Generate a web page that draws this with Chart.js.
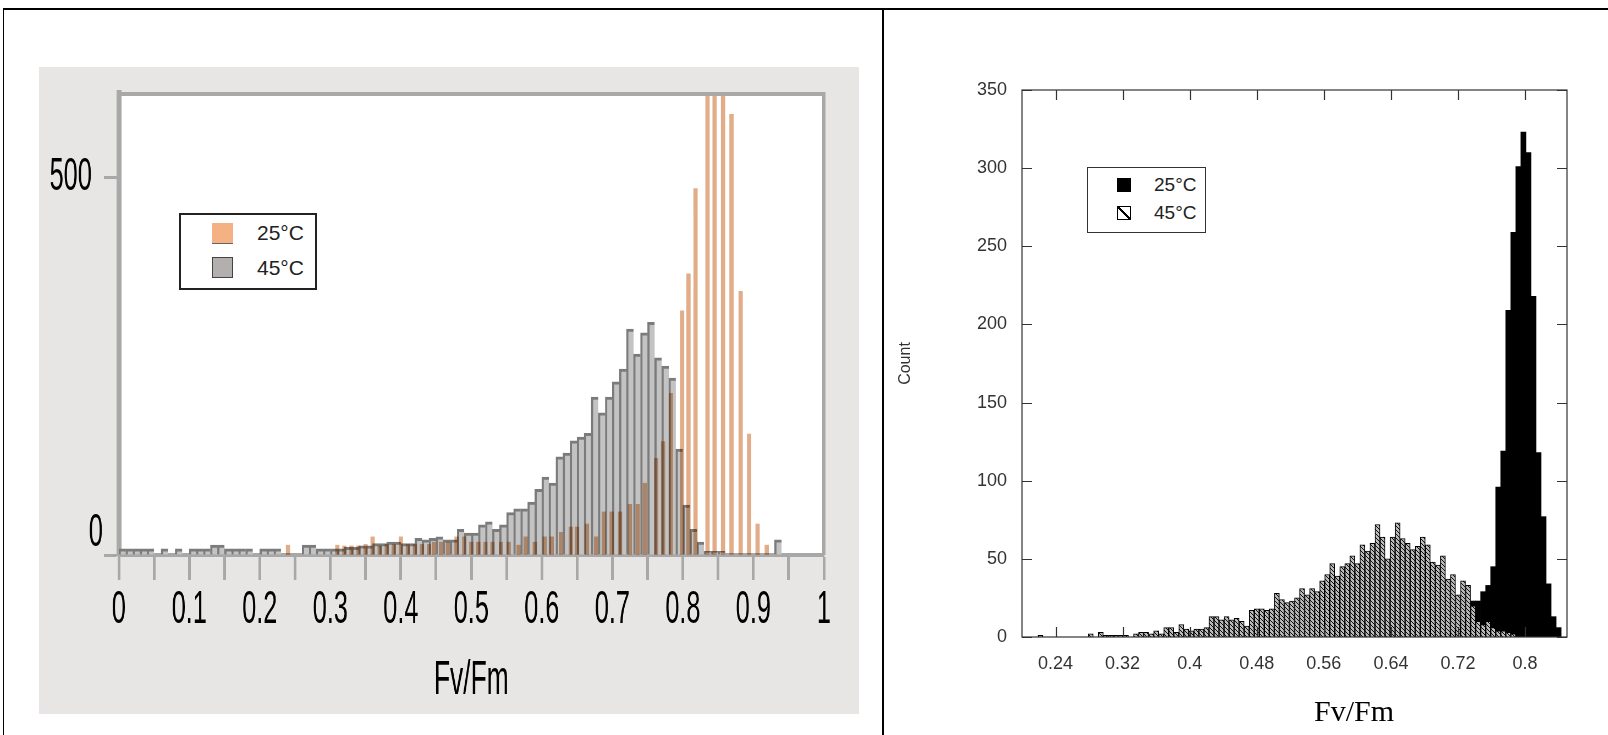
<!DOCTYPE html>
<html>
<head>
<meta charset="utf-8">
<title>Fv/Fm histograms</title>
<script src="https://cdn.jsdelivr.net/npm/chart.js@4.4.1/dist/chart.umd.min.js"></script>
<style>
  html, body { margin: 0; padding: 0; background: #fff; }
  body { width: 1608px; height: 735px; position: relative; overflow: hidden; font-family: 'Liberation Sans', Arial, sans-serif; }
  .rule { position: absolute; background: #000; }
  #leftPanel { position: absolute; left: 39px; top: 67px; width: 820px; height: 647px; background: #e7e6e4; overflow: hidden; }
  /* the left figure uses a tall, narrow lettering: draw it wide and squeeze it horizontally */
  #leftWrap { position: absolute; left: 0; top: 0; width: 1491px; height: 647px; transform: scaleX(0.55); transform-origin: 0 0; }
  #rightPanel { position: absolute; left: 884px; top: 10px; width: 724px; height: 725px; }
  .legend { position: absolute; background: #fff; box-sizing: content-box; z-index: 2; }
  .sw { position: absolute; box-sizing: border-box; }
  .lt { position: absolute; white-space: nowrap; color: #222; }
  #rightTitle { position: absolute; left: 1300px; top: 693px; width: 108px; text-align: center; line-height: 36px;
                font-family: 'Liberation Serif', 'Times New Roman', serif; font-size: 30px; color: #000; }
</style>
</head>
<body>
<div class="rule" style="left:3px;top:8px;width:1605px;height:2px"></div>
<div class="rule" style="left:3px;top:8px;width:1px;height:727px"></div>
<div class="rule" style="left:882px;top:8px;width:2px;height:727px"></div>

<div id="leftPanel"><div id="leftWrap"><canvas id="leftChart"></canvas></div></div>
<div id="rightPanel"><canvas id="rightChart"></canvas></div>

<div class="legend" style="left:179px;top:213px;width:134px;height:73px;border:2px solid #222">
  <span class="sw" style="left:31px;top:8px;width:21px;height:21px;background:#f4b183;border-bottom:1px solid #666"></span>
  <span class="lt" style="left:76px;top:6px;font-size:21px;line-height:24px">25°C</span>
  <span class="sw" style="left:31px;top:42px;width:21px;height:21px;background:#b2afae;border:1.5px solid #444"></span>
  <span class="lt" style="left:76px;top:41px;font-size:21px;line-height:24px">45°C</span>
</div>

<div class="legend" style="left:1087px;top:167px;width:117px;height:64px;border:1.5px solid #333">
  <span class="sw" style="left:29px;top:10px;width:14px;height:14px;background:#000"></span>
  <span class="lt" style="left:66px;top:6px;font-size:19px;line-height:22px">25°C</span>
  <span class="sw" style="left:29px;top:38px;width:14px;height:14px;border:1px solid #000;background:linear-gradient(to top right,#fff 42%,#000 42%,#000 58%,#fff 58%)"></span>
  <span class="lt" style="left:66px;top:34px;font-size:19px;line-height:22px">45°C</span>
</div>

<div id="rightTitle">Fv/Fm</div>

<script>
// ---- left panel: Fv/Fm histogram, 25°C vs 45°C ----
const leftBins25 = [0.24, 0.31, 0.32, 0.33, 0.34, 0.35, 0.36, 0.37, 0.38, 0.39, 0.40, 0.41, 0.42, 0.43, 0.44,
  0.447, 0.457, 0.467, 0.479, 0.49, 0.50, 0.51, 0.52, 0.53, 0.542, 0.553, 0.567, 0.577, 0.59, 0.604, 0.614,
  0.627, 0.641, 0.65, 0.664, 0.677, 0.688, 0.699, 0.711, 0.725, 0.736, 0.746, 0.762, 0.772, 0.783,
  0.799, 0.808, 0.818, 0.835, 0.845, 0.857, 0.869, 0.882, 0.894, 0.906, 0.919];
const leftCounts25 = [13, 13, 12, 12, 12, 14, 24, 12, 14, 14, 24, 14, 14, 14, 14,
  17, 17, 17, 24, 24, 17, 17, 17, 17, 17, 17, 13, 24, 17, 24, 24,
  30, 37, 37, 41, 24, 57, 57, 57, 67, 67, 95, 128, 150, 214,
  323, 372, 485, 640, 640, 640, 583, 349, 160, 41, 13];

const leftBins45 = [0.005, 0.015, 0.025, 0.035, 0.045, 0.065, 0.085, 0.105, 0.115, 0.125, 0.135, 0.145,
  0.155, 0.165, 0.175, 0.185, 0.205, 0.215, 0.225, 0.265, 0.275, 0.285, 0.295, 0.305, 0.315, 0.325,
  0.335, 0.345, 0.355, 0.365, 0.375, 0.385, 0.395, 0.405, 0.415, 0.425, 0.435, 0.445, 0.455, 0.465,
  0.475, 0.485, 0.495, 0.505, 0.515, 0.525, 0.535, 0.545, 0.555, 0.565, 0.575, 0.585, 0.595, 0.605,
  0.615, 0.625, 0.635, 0.645, 0.655, 0.665, 0.675, 0.685, 0.695, 0.705, 0.715, 0.725, 0.735, 0.745,
  0.755, 0.765, 0.775, 0.785, 0.795, 0.805, 0.815, 0.825, 0.835, 0.845, 0.855, 0.935];
const leftCounts45 = [8, 8, 8, 8, 8, 8, 8, 8, 8, 8, 13, 13,
  8, 8, 8, 8, 8, 8, 8, 13, 13, 8, 8, 8, 8, 10,
  10, 12, 12, 15, 15, 17, 17, 15, 15, 22, 20, 22, 24, 20,
  20, 34, 29, 29, 40, 44, 34, 40, 56, 61, 61, 70, 87, 103,
  95, 130, 135, 151, 156, 161, 209, 188, 209, 229, 246, 299, 266, 294,
  308, 261, 250, 234, 140, 66, 34, 17, 5, 5, 5, 20];

const leftXTicks = [0, 0.05, 0.1, 0.15, 0.2, 0.25, 0.3, 0.35, 0.4, 0.45, 0.5, 0.55, 0.6, 0.65, 0.7, 0.75, 0.8, 0.85, 0.9, 0.95, 1];
const leftXLabels = ['0', '', '0.1', '', '0.2', '', '0.3', '', '0.4', '', '0.5', '', '0.6', '', '0.7', '', '0.8', '', '0.9', '', '1'];
const leftYTicks = [0, 500];
const leftYLabels = ['0', '500'];

// ---- right panel: Fv/Fm histogram, 25°C vs 45°C ----
const rightBins25 = [0.708, 0.714, 0.720, 0.726, 0.732, 0.738, 0.744, 0.750, 0.756, 0.762, 0.768, 0.774,
  0.780, 0.786, 0.792, 0.798, 0.804, 0.810, 0.816, 0.822, 0.828, 0.834, 0.840];
const rightCounts25 = [2, 3, 5, 10, 15, 23, 23, 29, 33, 45, 96, 119,
  209, 259, 301, 323, 310, 218, 118, 77, 34, 13, 6];

const rightBins45 = [0.222, 0.282, 0.294, 0.300, 0.306, 0.312, 0.318, 0.324, 0.336, 0.342, 0.348, 0.354,
  0.360, 0.366, 0.372, 0.378, 0.384, 0.390, 0.396, 0.402, 0.408, 0.414, 0.420, 0.426, 0.432, 0.438,
  0.444, 0.450, 0.456, 0.462, 0.468, 0.474, 0.480, 0.486, 0.492, 0.498, 0.504, 0.510, 0.516, 0.522,
  0.528, 0.534, 0.540, 0.546, 0.552, 0.558, 0.564, 0.570, 0.576, 0.582, 0.588, 0.594, 0.600, 0.606,
  0.612, 0.618, 0.624, 0.630, 0.636, 0.642, 0.648, 0.654, 0.660, 0.666, 0.672, 0.678, 0.684, 0.690,
  0.696, 0.702, 0.708, 0.714, 0.720, 0.726, 0.732, 0.738, 0.744, 0.750, 0.756, 0.762, 0.768, 0.774,
  0.780, 0.786];
const rightCounts45 = [1, 2, 3, 1, 1, 1, 1, 1, 2, 3, 3, 2,
  4, 2, 6, 6, 3, 8, 5, 4, 5, 5, 6, 13, 13, 11,
  13, 11, 12, 10, 7, 17, 18, 18, 17, 18, 28, 24, 22, 23,
  25, 31, 27, 31, 29, 36, 40, 47, 39, 45, 47, 52, 47, 59,
  55, 60, 72, 64, 50, 64, 73, 63, 60, 56, 58, 64, 59, 48,
  46, 52, 37, 40, 27, 36, 33, 20, 10, 8, 10, 6, 4, 4,
  3, 2];

const rightXTicks = [0.24, 0.32, 0.4, 0.48, 0.56, 0.64, 0.72, 0.8];
const rightXLabels = ['0.24', '0.32', '0.4', '0.48', '0.56', '0.64', '0.72', '0.8'];
const rightYTicks = [0, 50, 100, 150, 200, 250, 300, 350];

const pairs = (xs, ys) => xs.map((x, i) => ({ x: x, y: ys[i] }));

Chart.defaults.font.family = "'Liberation Sans', Arial, sans-serif";
const leftFont = "'Liberation Sans', Arial, sans-serif";

// keep the axis box where it is put, whatever the label sizes
const noEdgePadding = s => { s.paddingTop = 0; s.paddingBottom = 0; s.paddingLeft = 0; s.paddingRight = 0; };

// white plot area on top of the panel colour
const plotBackground = {
  id: 'plotBackground',
  beforeDraw(chart, args, opts) {
    const { ctx, chartArea: a } = chart;
    ctx.save();
    ctx.fillStyle = opts.color;
    ctx.fillRect(a.left, a.top, a.width, a.height);
    ctx.restore();
  }
};

// in the original the "0" on the count axis sits up and right of its tick
const nudgeLabel = {
  id: 'nudgeLabel',
  beforeDraw(chart, args, opts) {
    const items = chart.scales[opts.scale].getLabelItems(chart.chartArea);
    const it = items[opts.index];
    if (it && !it._nudged) {
      it.options.translation[0] += opts.dx;
      it.options.translation[1] += opts.dy;
      it._nudged = true;
    }
  }
};

// top and right edges of the left plot frame
const plotFrame = {
  id: 'plotFrame',
  afterDraw(chart, args, opts) {
    const { ctx, chartArea: a } = chart;
    ctx.save();
    ctx.strokeStyle = opts.color;
    ctx.lineWidth = opts.topWidth;
    ctx.beginPath();
    ctx.moveTo(a.left - opts.leftInset, a.top);
    ctx.lineTo(a.right + opts.rightWidth / 2, a.top);
    ctx.stroke();
    ctx.lineWidth = opts.rightWidth;
    ctx.beginPath();
    ctx.moveTo(a.right, a.top);
    ctx.lineTo(a.right, a.bottom);
    ctx.stroke();
    ctx.restore();
  }
};

// the orange bars blend with the grey ones like in the original
const multiplyDataset = {
  id: 'multiplyDataset',
  beforeDatasetDraw(chart, args, opts) {
    if (chart.data.datasets[args.index].label === opts.label) {
      chart.ctx.save();
      chart.ctx.globalCompositeOperation = 'multiply';
    }
  },
  afterDatasetDraw(chart, args, opts) {
    if (chart.data.datasets[args.index].label === opts.label) chart.ctx.restore();
  }
};

// boxed frame with inward ticks on all four sides
const boxTicks = {
  id: 'boxTicks',
  afterDraw(chart, args, opts) {
    const { ctx, chartArea: a, scales } = chart;
    const L = opts.length;
    ctx.save();
    ctx.strokeStyle = opts.color;
    ctx.lineWidth = opts.width;
    ctx.beginPath();
    scales.x.ticks.forEach(t => {
      const px = Math.round(scales.x.getPixelForValue(t.value)) + 0.5;
      ctx.moveTo(px, a.bottom); ctx.lineTo(px, a.bottom - L);
      ctx.moveTo(px, a.top); ctx.lineTo(px, a.top + L);
    });
    scales.y.ticks.forEach(t => {
      const py = Math.round(scales.y.getPixelForValue(t.value)) + 0.5;
      ctx.moveTo(a.left, py); ctx.lineTo(a.left + L, py);
      ctx.moveTo(a.right, py); ctx.lineTo(a.right - L, py);
    });
    ctx.stroke();
    ctx.strokeRect(a.left, a.top, a.width, a.height);
    ctx.restore();
  }
};

// left chart is laid out 1/0.55 wider, then squeezed by the wrapper
new Chart(document.getElementById('leftChart'), {
  type: 'bar',
  data: {
    datasets: [
      { label: '25°C', data: pairs(leftBins25, leftCounts25), backgroundColor: '#e1ac87',
        barThickness: 7, grouped: false, order: 0 },
      { label: '45°C', data: pairs(leftBins45, leftCounts45), backgroundColor: '#c3c3c3',
        borderColor: '#7b7b7b', borderWidth: { top: 3, left: 4, right: 0, bottom: 0 }, borderSkipped: false,
        barThickness: 13, grouped: false, order: 1 }
    ]
  },
  options: {
    responsive: true,
    maintainAspectRatio: false,
    animation: false,
    layout: { padding: { top: 27, right: 64, left: 0, bottom: 0 } },
    plugins: {
      legend: { display: false },
      tooltip: { enabled: false },
      plotBackground: { color: '#ffffff' },
      plotFrame: { color: '#a8a8a8', topWidth: 4, rightWidth: 6, leftInset: 4 },
      multiplyDataset: { label: '25°C' },
      nudgeLabel: { scale: 'y', index: 0, dx: 20, dy: -22 }
    },
    scales: {
      x: {
        type: 'linear', min: 0, max: 1, offset: false,
        afterBuildTicks: s => { s.ticks = leftXTicks.map(v => ({ value: v })); },
        afterFit: s => { s.height = 159; noEdgePadding(s); },
        grid: { offset: false, drawOnChartArea: false, color: '#a8a8a8', tickLength: 25, tickWidth: 5 },
        border: { color: '#a8a8a8', width: 4 },
        ticks: { autoSkip: false, maxRotation: 0, padding: 3, color: '#000',
                 font: { family: leftFont, size: 46 }, callback: (v, i) => leftXLabels[i] },
        title: { display: true, text: 'Fv/Fm', color: '#000', font: { family: leftFont, size: 48 },
                 padding: { top: 0, bottom: 4 } }
      },
      y: {
        min: 0, max: 610,
        afterBuildTicks: s => { s.ticks = leftYTicks.map(v => ({ value: v })); },
        afterFit: s => { s.width = 145; noEdgePadding(s); },
        grid: { drawOnChartArea: false, color: '#a8a8a8', tickLength: 27, tickWidth: 3 },
        border: { color: '#a8a8a8', width: 9 },
        ticks: { padding: 22, color: '#000', font: { family: leftFont, size: 46 },
                 callback: (v, i) => leftYLabels[i] }
      }
    }
  },
  plugins: [plotBackground, plotFrame, multiplyDataset, nudgeLabel]
});

// grey fill with dark diagonal hatching for the 45°C bars
const rightCanvas = document.getElementById('rightChart');
const tile = document.createElement('canvas');
tile.width = 4; tile.height = 4;
const tg = tile.getContext('2d');
tg.fillStyle = '#bababa';
tg.fillRect(0, 0, 4, 4);
tg.strokeStyle = '#111';
tg.lineWidth = 1;
tg.beginPath();
tg.moveTo(-1, -1); tg.lineTo(5, 5);
tg.moveTo(3, -1); tg.lineTo(5, 1);
tg.moveTo(-1, 3); tg.lineTo(1, 5);
tg.stroke();
const hatch = rightCanvas.getContext('2d').createPattern(tile, 'repeat');

new Chart(rightCanvas, {
  type: 'bar',
  data: {
    datasets: [
      { label: '25°C', data: pairs(rightBins25, rightCounts25), backgroundColor: '#000',
        barThickness: 5, grouped: false, order: 1 },
      { label: '45°C', data: pairs(rightBins45, rightCounts45), backgroundColor: hatch,
        borderColor: '#000', borderWidth: 1, barThickness: 5, grouped: false, order: 0 }
    ]
  },
  options: {
    responsive: true,
    maintainAspectRatio: false,
    animation: false,
    layout: { padding: { top: 80, right: 41, left: 0, bottom: 0 } },
    plugins: {
      legend: { display: false },
      tooltip: { enabled: false },
      boxTicks: { color: '#333', width: 1.2, length: 10 }
    },
    scales: {
      x: {
        type: 'linear', min: 0.2, max: 0.85, offset: false,
        afterBuildTicks: s => { s.ticks = rightXTicks.map(v => ({ value: v })); },
        afterFit: s => { s.height = 98; },
        grid: { offset: false, display: false, drawTicks: false },
        border: { display: false },
        ticks: { autoSkip: false, maxRotation: 0, padding: 16, color: '#333', font: { size: 18 },
                 callback: (v, i) => rightXLabels[i] }
      },
      y: {
        min: 0, max: 350,
        afterBuildTicks: s => { s.ticks = rightYTicks.map(v => ({ value: v })); },
        afterFit: s => { s.width = 138; },
        grid: { display: false, drawTicks: false },
        border: { display: false },
        ticks: { padding: 15, color: '#333', font: { size: 18 } },
        title: { display: true, text: 'Count', color: '#333', font: { size: 16 }, padding: { top: 12, bottom: 0 } }
      }
    }
  },
  plugins: [boxTicks]
});
</script>
</body>
</html>
